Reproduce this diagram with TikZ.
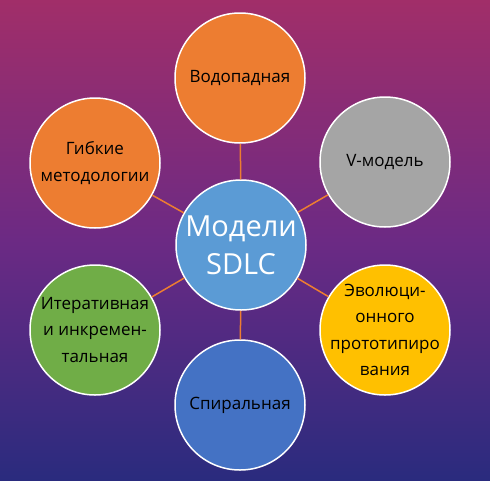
\documentclass[tikz,border=0pt]{standalone}
\usepackage{fontspec}
\setmainfont{Open Sans}
\definecolor{bgtop}{HTML}{A12E69}
\definecolor{bgmid}{HTML}{6C2A84}
\definecolor{bgbot}{HTML}{2A2B7E}
\definecolor{corange}{HTML}{ED7D31}
\definecolor{cgray}{HTML}{A5A5A5}
\definecolor{cyellow}{HTML}{FFC000}
\definecolor{cgreen}{HTML}{70AD47}
\definecolor{cblue}{HTML}{4472C4}
\definecolor{clight}{HTML}{5B9BD5}
\tikzset{
  outer/.style={circle, draw=white, line width=1.5pt, minimum size=130pt, inner sep=0pt},
  lbl/.style={align=center, inner sep=0pt, font=\fontsize{17}{26.5}\selectfont, text=black},
  hub/.style={circle, draw=white, line width=1.5pt, minimum size=130pt, inner sep=0pt, align=center, font=\fontsize{29}{38}\selectfont, text=white, fill=clight},
  link/.style={draw=corange, line width=1.5pt}
}
\begin{document}
\begin{tikzpicture}[x=1pt,y=-1pt]
\shade[top color=bgtop, bottom color=bgbot, middle color=bgmid] (0,0) rectangle (490,480);
\useasboundingbox (0,0) rectangle (490,480);
\node[hub] (c) at (241,245) {Модели\\SDLC};
\node[outer, fill=corange] (w) at (240,78) {};
\node[outer, fill=cgray] (v) at (385,162) {};
\node[outer, fill=cyellow] (e) at (385,330) {};
\node[outer, fill=cblue] (s) at (240,405) {};
\node[outer, fill=cgreen] (i) at (95,330) {};
\node[outer, fill=corange] (g) at (95,163) {};
\node[lbl] (wt) at (w) {Водопадная};
\node[lbl] (vt) at (v) {V-модель};
\node[lbl] (et) at (e) {Эволюци-\\онного\\прототипиро\\вания};
\node[lbl] (st) at (s) {Спиральная};
\node[lbl] (it) at (i) {Итеративная\\и инкремен-\\тальная};
\node[lbl] (gt) at (g) {Гибкие\\методологии};
\foreach \n in {w,v,e,s,i,g} \draw[link] (c) -- (\n);
\end{tikzpicture}
\end{document}
